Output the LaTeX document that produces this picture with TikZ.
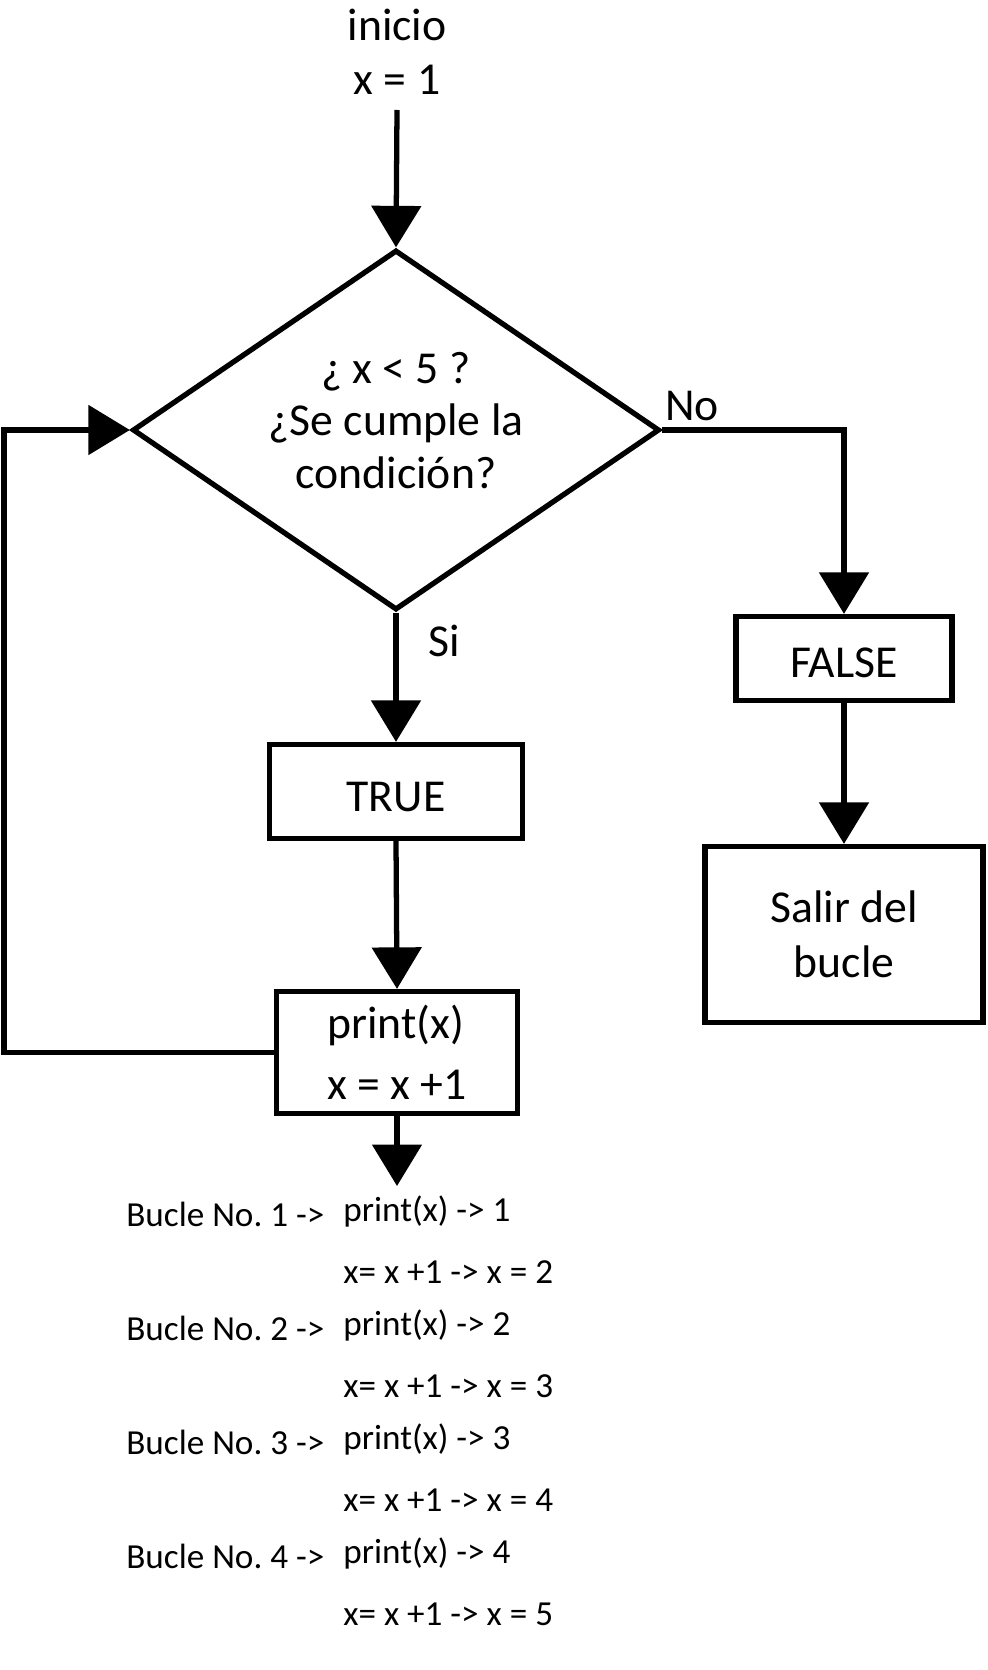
\documentclass[tikz,border=0pt]{standalone}
\usepackage{fontspec}
\setmainfont{Carlito}
\usepackage{tikz}
\usetikzlibrary{shapes.geometric, arrows.meta, positioning}
\frenchspacing
\tikzstyle{box} = [rectangle, draw, line width=3pt, align=center, inner sep=0pt, font=\fontsize{26}{31}\selectfont]
\tikzstyle{decision} = [diamond, draw, line width=3pt, aspect=1.46, inner sep=0pt, align=center, text depth=11pt, font=\fontsize{26}{30}\selectfont]
\tikzstyle{arrow} = [line width=3pt, -{Triangle[length=0.83cm, width=0.98cm]}]
\tikzstyle{label} = [font=\fontsize{26}{31}\selectfont]
\tikzstyle{trace} = [anchor=base west, inner sep=0pt, font=\fontsize{20}{24}\selectfont]

\begin{document}
\begin{tikzpicture}
    \useasboundingbox (0,0) rectangle (19.74,-33.4);

    % Start
    \node[label, align=center] (start) at (7.94, -1.04) {inicio\\x = 1};
    \coordinate (c0) at (7.94, -2.2);

    % Condition
    \node[decision, minimum width=10.54cm, minimum height=7.2cm] (cond) at (7.92, -8.6) {¿ x < 5 ?\\¿Se cumple la\\condición?};
    \node[label] (no) at (13.84, -8.12) {No};
    \node[label] (si) at (8.88, -12.82) {Si};

    % True branch
    \node[box, minimum width=5.06cm, minimum height=1.88cm, text height=22.5pt] (true) at (7.92, -15.83) {TRUE};
    \node[box, align=left, minimum width=4.82cm, minimum height=2.44cm, font=\fontsize{26}{34.6}\selectfont] (print) at (7.94, -21.05) {print(x)\\x = x +1};
    \coordinate (cend) at (7.94, -23.72);
    \coordinate (cloop) at (0.08, -21.05);

    % False branch
    \node[box, minimum width=4.32cm, minimum height=1.68cm, text height=22pt] (false) at (16.88, -13.17) {FALSE};
    \node[box, minimum width=5.56cm, minimum height=3.52cm] (exit) at (16.88, -18.69) {Salir del\\bucle};

    % Connections
    \draw[arrow] (c0) -- (cond.north);
    \draw[arrow] (cond.south) -- (true.north);
    \draw[arrow] (true.south) -- (print.north);
    \draw[arrow] (print.south) -- (cend);
    \draw[arrow] (print.west) -- (cloop) |- (cond.west);
    \draw[arrow] (cond.east) -| (false.north);
    \draw[arrow] (false.south) -- (exit.north);

    % Loop trace
    \node[trace] (bucle1) at (2.52, -24.52) {Bucle No. 1 ->};
    \node[trace] (out1) at (6.86, -24.42) {print(x) -> 1};
    \node[trace] (inc1) at (6.86, -25.66) {x= x +1 -> x = 2};
    \node[trace] (bucle2) at (2.52, -26.80) {Bucle No. 2 ->};
    \node[trace] (out2) at (6.86, -26.70) {print(x) -> 2};
    \node[trace] (inc2) at (6.86, -27.94) {x= x +1 -> x = 3};
    \node[trace] (bucle3) at (2.52, -29.08) {Bucle No. 3 ->};
    \node[trace] (out3) at (6.86, -28.98) {print(x) -> 3};
    \node[trace] (inc3) at (6.86, -30.22) {x= x +1 -> x = 4};
    \node[trace] (bucle4) at (2.52, -31.36) {Bucle No. 4 ->};
    \node[trace] (out4) at (6.86, -31.26) {print(x) -> 4};
    \node[trace] (inc4) at (6.86, -32.50) {x= x +1 -> x = 5};
\end{tikzpicture}
\end{document}
